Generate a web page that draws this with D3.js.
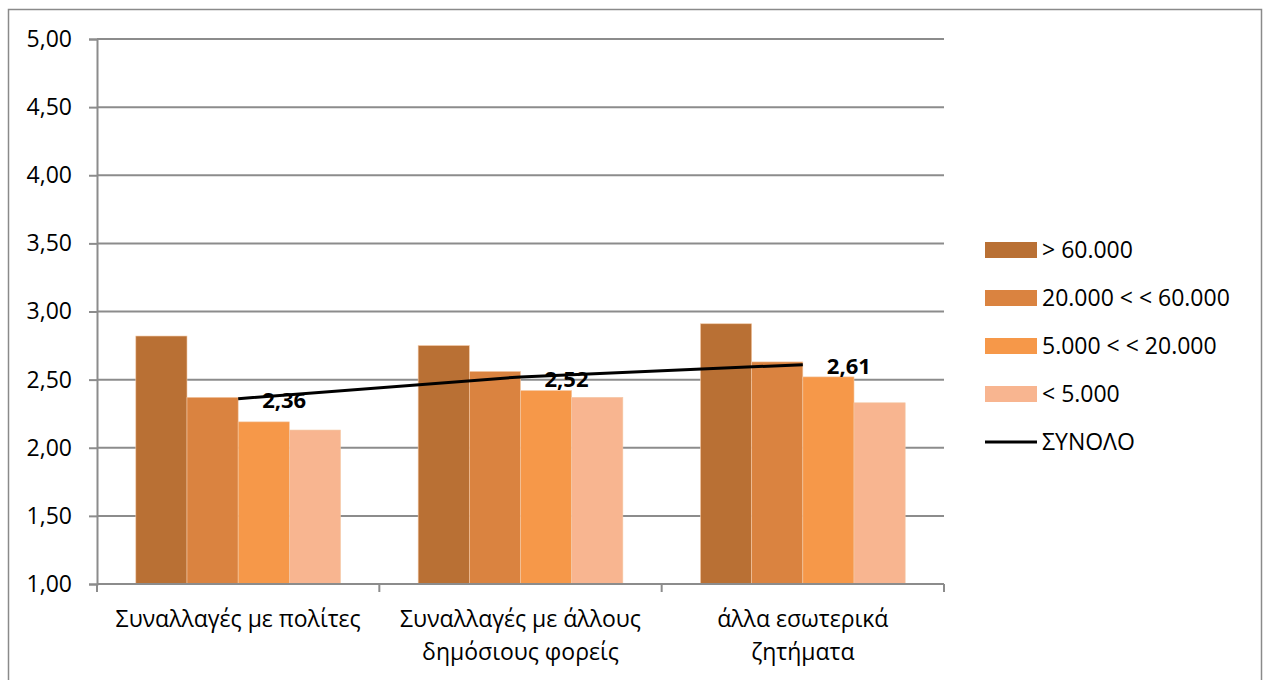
<!DOCTYPE html>
<html>
<head>
<meta charset="utf-8">
<script src="https://cdn.jsdelivr.net/npm/d3@7"></script>
<style>
  body { margin: 0; background: #fff; }
  svg { display: block; }
  text { font-family: "Open Sans", "Noto Sans", sans-serif; fill: #000; }
</style>
</head>
<body>
<div id="chart"></div>
<script>
// Categories (multi-line labels)
const categories = ["Συναλλαγές με πολίτες", "Συναλλαγές με άλλους δημόσιους φορείς", "άλλα εσωτερικά ζητήματα"];
const categoryLines = [["Συναλλαγές με πολίτες"], ["Συναλλαγές με άλλους", "δημόσιους φορείς"], ["άλλα εσωτερικά", "ζητήματα"]];

// Series (population groups)
const seriesNames = ["> 60.000", "20.000 < < 60.000", "5.000 < < 20.000", "< 5.000"];
const seriesColors = ["#b97034", "#da8340", "#f69849", "#f8b590"];
const over60k = [2.82, 2.75, 2.91];
const from20to60k = [2.37, 2.56, 2.63];
const from5to20k = [2.19, 2.42, 2.52];
const under5k = [2.13, 2.37, 2.33];
const seriesValues = [over60k, from20to60k, from5to20k, under5k];

// Total line
const totalName = "ΣΥΝΟΛΟ";
const totalValues = [2.36, 2.52, 2.61];

const yTicks = [1, 1.5, 2, 2.5, 3, 3.5, 4, 4.5, 5];

const width = 1263, height = 680;
const margin = { left: 97, right: 319, top: 39, bottom: 96 };
const innerW = width - margin.left - margin.right;
const innerH = height - margin.top - margin.bottom;
const fontSize = "23px";

const svg = d3.select("#chart").append("svg")
    .attr("width", width)
    .attr("height", height);

// Outer frame
svg.append("rect")
    .attr("x", 8.5).attr("y", 9.5)
    .attr("width", 1253).attr("height", 700)
    .attr("fill", "none")
    .attr("stroke", "#8a8a8a")
    .attr("stroke-width", 1.5);

const g = svg.append("g").attr("transform", `translate(${margin.left},${margin.top})`);

const x0 = d3.scaleBand().domain(categories).range([0, innerW]).paddingInner(0.275).paddingOuter(0.1375);
const x1 = d3.scaleBand().domain(seriesNames).range([0, x0.bandwidth()]);
const y = d3.scaleLinear().domain([1, 5]).range([innerH, 0]);
const catStep = innerW / categories.length;

// Gridlines
g.selectAll(".grid").data(yTicks.slice(1)).enter().append("line")
    .attr("x1", 0).attr("x2", innerW)
    .attr("y1", d => y(d)).attr("y2", d => y(d))
    .attr("stroke", "#8c8c8c").attr("stroke-width", 2);

// Y axis
const yAxis = g.append("g")
    .call(d3.axisLeft(y).tickValues(yTicks).tickSize(8).tickPadding(17)
        .tickFormat(d => d3.format(".2f")(d).replace(".", ",")));
yAxis.attr("font-size", null).attr("font-family", null);
yAxis.select(".domain").attr("stroke", "#8c8c8c").attr("stroke-width", 2);
yAxis.selectAll(".tick line").attr("stroke", "#8c8c8c").attr("stroke-width", 2);
yAxis.selectAll(".tick text").style("font-size", fontSize).attr("fill", "#000");

// Bars
categories.forEach((cat, ci) => {
    const grp = g.append("g").attr("transform", `translate(${x0(cat)},0)`);
    grp.selectAll("rect").data(seriesNames).enter().append("rect")
        .attr("x", s => x1(s))
        .attr("y", (s, si) => y(seriesValues[si][ci]))
        .attr("width", x1.bandwidth())
        .attr("height", (s, si) => y(1) - y(seriesValues[si][ci]))
        .attr("fill", (s, si) => seriesColors[si])
        .attr("stroke", "#f3c9a6")
        .attr("stroke-width", 0.6);
});

// X axis
g.append("line")
    .attr("x1", 0).attr("x2", innerW)
    .attr("y1", innerH).attr("y2", innerH)
    .attr("stroke", "#8c8c8c").attr("stroke-width", 2);
g.selectAll(".xtick").data(d3.range(categories.length + 1)).enter().append("line")
    .attr("x1", i => i * catStep).attr("x2", i => i * catStep)
    .attr("y1", innerH).attr("y2", innerH + 8)
    .attr("stroke", "#8c8c8c").attr("stroke-width", 2);

categories.forEach((cat, ci) => {
    const t = g.append("text")
        .attr("x", x0(cat) + x0.bandwidth() / 2)
        .attr("y", innerH + 43)
        .attr("text-anchor", "middle")
        .style("font-size", fontSize);
    categoryLines[ci].forEach((ln, li) => {
        t.append("tspan")
            .attr("x", x0(cat) + x0.bandwidth() / 2)
            .attr("dy", li === 0 ? 0 : 33)
            .text(ln);
    });
});

// Total line
const cx = cat => x0(cat) + x0.bandwidth() / 2;
const line = d3.line().x((d, i) => cx(categories[i])).y(d => y(d));
g.append("path")
    .datum(totalValues)
    .attr("d", line)
    .attr("fill", "none")
    .attr("stroke", "#000")
    .attr("stroke-width", 3);

g.selectAll(".lbl").data(totalValues).enter().append("text")
    .attr("x", (d, i) => cx(categories[i]) + 24)
    .attr("y", d => y(d) + 2)
    .attr("dy", "0.35em")
    .style("font-size", "22px")
    .style("font-weight", "bold")
    .text(d => d3.format(".2f")(d).replace(".", ","));

// Legend
const legend = svg.append("g").attr("transform", "translate(985,250)");
const legendRows = seriesNames.concat([totalName]);
legendRows.forEach((name, i) => {
    const row = legend.append("g").attr("transform", `translate(0,${i * 48})`);
    if (i < seriesNames.length) {
        row.append("rect")
            .attr("x", 0).attr("y", -8)
            .attr("width", 52).attr("height", 16)
            .attr("fill", seriesColors[i]);
    } else {
        row.append("line")
            .attr("x1", 0).attr("x2", 52)
            .attr("y1", 0).attr("y2", 0)
            .attr("stroke", "#000").attr("stroke-width", 3);
    }
    row.append("text")
        .attr("x", 57).attr("y", 0)
        .attr("dy", "0.35em")
        .style("font-size", fontSize)
        .text(name);
});
</script>
</body>
</html>
